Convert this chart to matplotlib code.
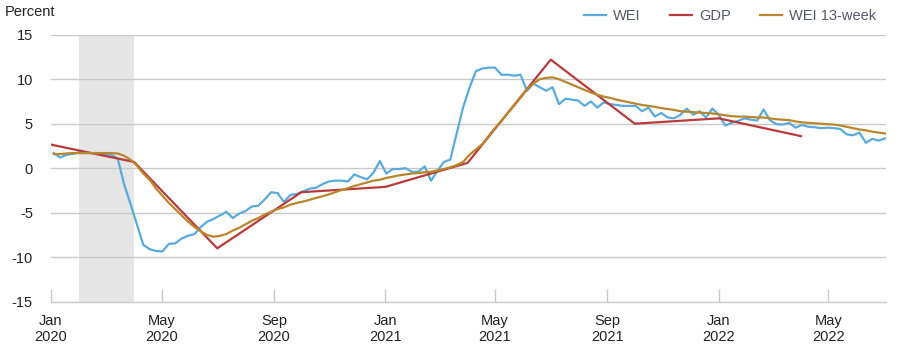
import matplotlib
matplotlib.use("Agg")
import matplotlib.pyplot as plt
import matplotlib.dates as mdates
import pandas as pd
import datetime as dt

plt.rcParams['font.family'] = ['Liberation Sans', 'DejaVu Sans']

# ---- data ----
wei_dates = pd.date_range('2020-01-04', periods=131, freq='7D')
wei = [1.7, 1.2, 1.5, 1.6, 1.8, 1.7, 1.7, 1.6, 1.6, 1.5, 1.1, -1.8, -4.0, -6.3, -8.6, -9.1, -9.3, -9.35, -8.5, -8.45, -7.9,
       -7.6, -7.4, -6.6, -6.0, -5.7, -5.3, -4.9, -5.6, -5.1, -4.8, -4.3, -4.2, -3.5, -2.7, -2.8, -3.8, -3.0, -2.9, -2.6, -2.3, -2.2, -1.8,
       -1.5, -1.4, -1.4, -1.5, -0.7, -1.0, -1.25, -0.5, 0.8, -0.6, -0.1, -0.1, 0.0, -0.4, -0.4, 0.2, -1.4, -0.3, 0.7, 0.95, 3.9, 6.8,
       9.0, 10.9, 11.2, 11.3, 11.3, 10.5, 10.5, 10.4, 10.5, 8.7, 9.5, 9.1, 8.7, 9.1, 7.2, 7.8, 7.7, 7.6, 7.0, 7.5, 6.8,
       7.4, 7.2, 7.1, 7.0, 7.0, 7.0, 6.4, 6.8, 5.8, 6.2, 5.7, 5.6, 6.0, 6.7, 6.0, 6.4, 5.7, 6.7, 6.0, 4.8, 5.1, 5.3, 5.6, 5.45,
       5.35, 6.6, 5.4, 4.95, 4.9, 5.1, 4.55, 4.85, 4.65, 4.6, 4.5, 4.55, 4.5, 4.4, 3.8, 3.7, 4.0, 2.85, 3.3, 3.1, 3.35]
wei13 = [1.6, 1.6, 1.65, 1.7, 1.7, 1.7, 1.7, 1.7, 1.7, 1.7, 1.65, 1.4, 0.95, 0.3, -0.6, -1.3, -2.3, -3.1, -3.9, -4.6, -5.3,
         -6.0, -6.6, -7.1, -7.5, -7.7, -7.6, -7.4, -7.0, -6.7, -6.3, -5.9, -5.6, -5.2, -4.9, -4.6, -4.4, -4.1, -3.9, -3.75, -3.55, -3.35, -3.15,
         -2.95, -2.7, -2.45, -2.25, -2.0, -1.8, -1.6, -1.4, -1.3, -1.1, -0.95, -0.8, -0.7, -0.6, -0.55, -0.45, -0.4, -0.25, -0.1, 0.1, 0.35, 0.7,
         1.5, 2.1, 2.7, 3.6, 4.5, 5.3, 6.2, 7.05, 7.9, 8.85, 9.5, 10.0, 10.15, 10.2, 10.0, 9.7, 9.4, 9.1, 8.8, 8.5, 8.25,
         8.05, 7.9, 7.7, 7.55, 7.4, 7.25, 7.1, 7.0, 6.9, 6.75, 6.65, 6.55, 6.4, 6.35, 6.3, 6.25, 6.2, 6.15, 6.05, 5.95, 5.85, 5.8, 5.8, 5.75,
         5.7, 5.7, 5.6, 5.5, 5.45, 5.4, 5.25, 5.15, 5.1, 5.05, 5.0, 4.95, 4.9, 4.8, 4.65, 4.5, 4.35, 4.25, 4.1, 4.0, 3.9]
gdp_dates = pd.to_datetime(['2020-01-01', '2020-04-01', '2020-07-01', '2020-10-01', '2021-01-01',
                            '2021-04-01', '2021-07-01', '2021-10-01', '2022-01-01', '2022-04-01'])
gdp = [2.65, 0.7, -9.0, -2.7, -2.1, 0.6, 12.2, 5.0, 5.6, 3.6]
recession = (dt.datetime(2020, 2, 1), dt.datetime(2020, 4, 1))
tick_dates = pd.to_datetime(['2020-01-01', '2020-05-01', '2020-09-01', '2021-01-01',
                             '2021-05-01', '2021-09-01', '2022-01-01', '2022-05-01'])
tick_labels = ['Jan\n2020', 'May\n2020', 'Sep\n2020', 'Jan\n2021', 'May\n2021', 'Sep\n2021', 'Jan\n2022', 'May\n2022']
yticks = [-15, -10, -5, 0, 5, 10, 15]

# ---- figure ----
W, H = 898, 355
fig = plt.figure(figsize=(W / 100, H / 100), dpi=100)
ax = fig.add_axes([51 / W, 1 - 301.7 / H, (886 - 51) / W, (301.7 - 34.7) / H])

grid_c = '#c9c9c9'
fs = 10.5
ax.axvspan(recession[0], recession[1], color='#e6e6e6', lw=0, zorder=0)
for y in yticks[1:]:
    ax.axhline(y, color=grid_c, lw=1.0, zorder=0.5)

l1, = ax.plot(wei_dates, wei, color='#5aaade', lw=1.6, label='WEI', zorder=2)
l2, = ax.plot(gdp_dates, gdp, color='#b83b3b', lw=1.6, label='GDP', zorder=3)
l3, = ax.plot(wei_dates, wei13, color='#b8862c', lw=1.6, label='WEI 13-week', zorder=4)

ax.set_xlim(dt.datetime(2020, 1, 1), dt.datetime(2022, 7, 3))
ax.set_ylim(-15, 15)
ax.set_yticks(yticks)
ax.set_yticklabels([str(v) for v in yticks])
ax.set_xticks(tick_dates)
ax.set_xticklabels(tick_labels, linespacing=1.15)

for s in ['top', 'right', 'left']:
    ax.spines[s].set_visible(False)
ax.spines['bottom'].set_color(grid_c)
ax.spines['bottom'].set_linewidth(1.0)

ax.tick_params(axis='y', length=0, pad=13, labelsize=fs, labelcolor='#222222')
ax.tick_params(axis='x', direction='in', length=9.5, width=1.0, color=grid_c, pad=9,
               labelsize=fs, labelcolor='#222222')

fig.text(5 / W, 1 - 12 / H, 'Percent', fontsize=fs, color='#222222', ha='left', va='center')

leg = fig.legend(handles=[l1, l2, l3], loc='center right', bbox_to_anchor=(876 / W, 1 - 16 / H),
                 ncol=3, frameon=False, fontsize=fs, handlelength=1.5, handletextpad=0.5,
                 columnspacing=2.0, borderpad=0, borderaxespad=0)
for t in leg.get_texts():
    t.set_color('#555a66')

fig.savefig('out.png', dpi=100)
